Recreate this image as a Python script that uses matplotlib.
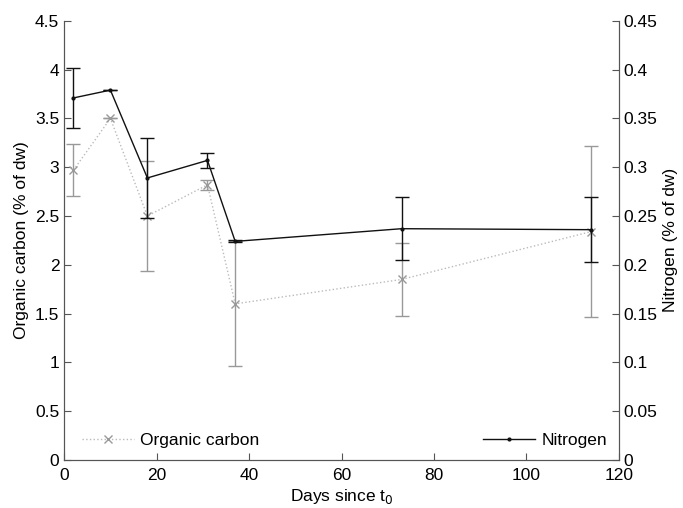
import numpy as np
import matplotlib.pyplot as plt
from matplotlib.lines import Line2D

plt.rcParams['font.family'] = ['Liberation Sans', 'DejaVu Sans']

days = [2, 10, 18, 31, 37, 73, 114]
carbon = [2.97, 3.50, 2.50, 2.82, 1.60, 1.85, 2.34]
carbon_err = [0.27, 0.0, 0.565, 0.05, 0.64, 0.375, 0.875]
nitrogen = [0.371, 0.379, 0.289, 0.307, 0.224, 0.237, 0.236]
nitrogen_err = [0.031, 0.0, 0.041, 0.008, 0.001, 0.032, 0.033]

fs = 12.5

fig = plt.figure(figsize=(6.83, 5.08), dpi=100)
ax = fig.add_axes([0.094, 0.0945, 0.812, 0.8645])
ax2 = ax.twinx()

ax.errorbar(days, carbon, yerr=carbon_err, color='#bbbbbb', ls=':', lw=1,
            marker='x', ms=6, mec='#999999', ecolor='#999999', elinewidth=1,
            capsize=5)
ax2.errorbar(days, nitrogen, yerr=nitrogen_err, color='#111111', ls='-', lw=1,
             marker='.', ms=4, ecolor='#111111', elinewidth=1,
             capsize=5)

ax.set_xlim(0, 120)
ax.set_ylim(0, 4.5)
ax2.set_ylim(0, 0.45)
ax.set_xticks(np.arange(0, 121, 20))
ax.set_yticks(np.arange(0, 4.51, 0.5))
ax.set_yticklabels(['0', '0.5', '1', '1.5', '2', '2.5', '3', '3.5', '4', '4.5'])
ax2.set_yticks(np.arange(0, 0.451, 0.05))
ax2.set_yticklabels(['0', '0.05', '0.1', '0.15', '0.2', '0.25', '0.3', '0.35', '0.4', '0.45'])

for a in (ax, ax2):
    a.spines['top'].set_visible(False)
    for s in a.spines.values():
        s.set_color('#555555')
    a.tick_params(direction='in', labelsize=fs, color='#555555', length=5)
ax.tick_params(axis='x', pad=6)

ax.set_xlabel('Days since t$_0$', fontsize=fs, labelpad=3)
ax.set_ylabel('Organic carbon (% of dw)', fontsize=fs)
ax2.set_ylabel('Nitrogen (% of dw)', fontsize=fs)

h_c = Line2D([], [], color='#bbbbbb', ls=':', lw=1, marker='x', ms=6, mec='#999999')
h_n = Line2D([], [], color='#111111', ls='-', lw=1, marker='.', ms=4)
ax.legend([h_c], ['Organic carbon'], loc='lower left', frameon=False, fontsize=fs,
          handlelength=3.0, handletextpad=0.3, borderaxespad=0,
          bbox_to_anchor=(0.02, 0.012))
ax2.legend([h_n], ['Nitrogen'], loc='lower right', frameon=False, fontsize=fs,
           handlelength=3.0, handletextpad=0.35, borderaxespad=0,
           bbox_to_anchor=(0.991, 0.012))

fig.savefig('out.png', dpi=100)
